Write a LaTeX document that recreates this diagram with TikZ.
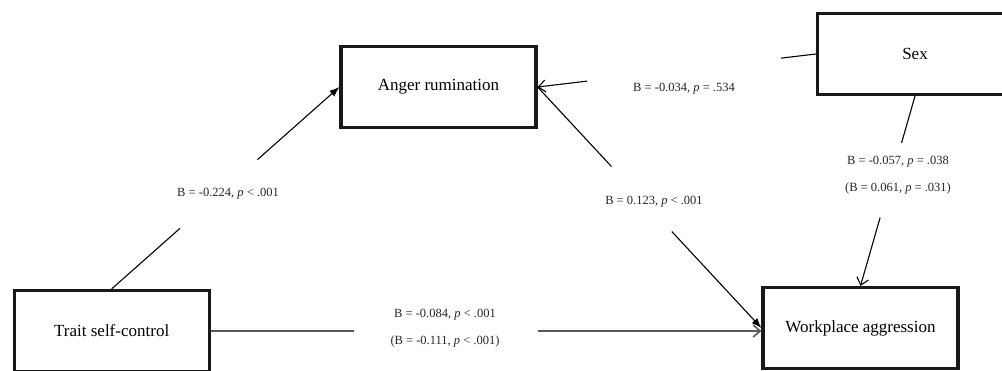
\documentclass[tikz,border=0pt]{standalone}
\usepackage{fontspec}
\setmainfont{Liberation Serif}
\usetikzlibrary{arrows.meta,calc}

\tikzset{
  caixa/.style={draw=black!90, line width=3.2pt, minimum width=195pt, minimum height=81pt,
    inner sep=0pt, font=\fontsize{17}{20}\selectfont},
  coef/.style={align=center, text=black!85, font=\fontsize{12.5}{27}\selectfont},
  linha/.style={line width=1.1pt},
  cheia/.style={-{Latex[length=10pt,width=7.5pt]}},
  aberta/.style={-{Straight Barb[length=7pt,width=12pt]}},
}

\begin{document}
\begin{tikzpicture}[x=10pt,y=10pt]
  \useasboundingbox (0,0) rectangle (100.2,37);

  % Caixas
  \node[caixa] (trait) at (11.17,3.90) {Trait self-control};
  \node[caixa] (anger) at (43.85,28.30) {Anger rumination};
  \node[caixa] (work) at (86.05,4.20) {Workplace aggression};
  \node[caixa] (sex) at (91.50,31.60) {Sex};

  % Pontos das lacunas
  \coordinate (tw) at (trait.east -| work.west);
  \coordinate (ta1) at ($(trait.north)!0.30!(anger.west)$);
  \coordinate (ta2) at ($(trait.north)!0.64!(anger.west)$);
  \coordinate (tw1) at ($(trait.east)!0.26!(tw)$);
  \coordinate (tw2) at ($(trait.east)!0.594!(tw)$);
  \coordinate (sa1) at ($(sex.west)!0.126!(anger.east)$);
  \coordinate (sa2) at ($(sex.west)!0.822!(anger.east)$);
  \coordinate (aw1) at ($(anger.east)!0.33!(work.west)$);
  \coordinate (aw2) at ($(anger.east)!0.60!(work.west)$);
  \coordinate (sw1) at ($(sex.south)!0.246!(work.north)$);
  \coordinate (sw2) at ($(sex.south)!0.64!(work.north)$);

  % Setas
  \draw[linha] (trait.north) -- (ta1);
  \draw[linha,cheia] (ta2) -- (anger.west);
  \draw[line width=1.6pt,black!65] (trait.east) -- (tw1);
  \draw[line width=1.6pt,black!65,aberta] (tw2) -- (tw);
  \draw[linha] (sex.west) -- (sa1);
  \draw[linha,aberta] (sa2) -- (anger.east);
  \draw[linha] (anger.east) -- (aw1);
  \draw[linha,cheia] (aw2) -- (work.west);
  \draw[linha] (sex.south) -- (sw1);
  \draw[linha,aberta] (sw2) -- (work.north);

  % Coeficientes
  \node[coef] (cta) at (22.8,17.6) {B = -0.224, \textit{p} < .001};
  \node[coef] (ctw) at (44.5,4.15) {B = -0.084, \textit{p} < .001\\(B = -0.111, \textit{p} < .001)};
  \node[coef] (csa) at (68.4,28.1) {B = -0.034, \textit{p} = .534};
  \node[coef] (caw) at (65.4,16.8) {B = 0.123, \textit{p} < .001};
  \node[coef] (csw) at (89.8,19.45) {B = -0.057, \textit{p} = .038\\(B = 0.061, \textit{p} = .031)};
\end{tikzpicture}
\end{document}
